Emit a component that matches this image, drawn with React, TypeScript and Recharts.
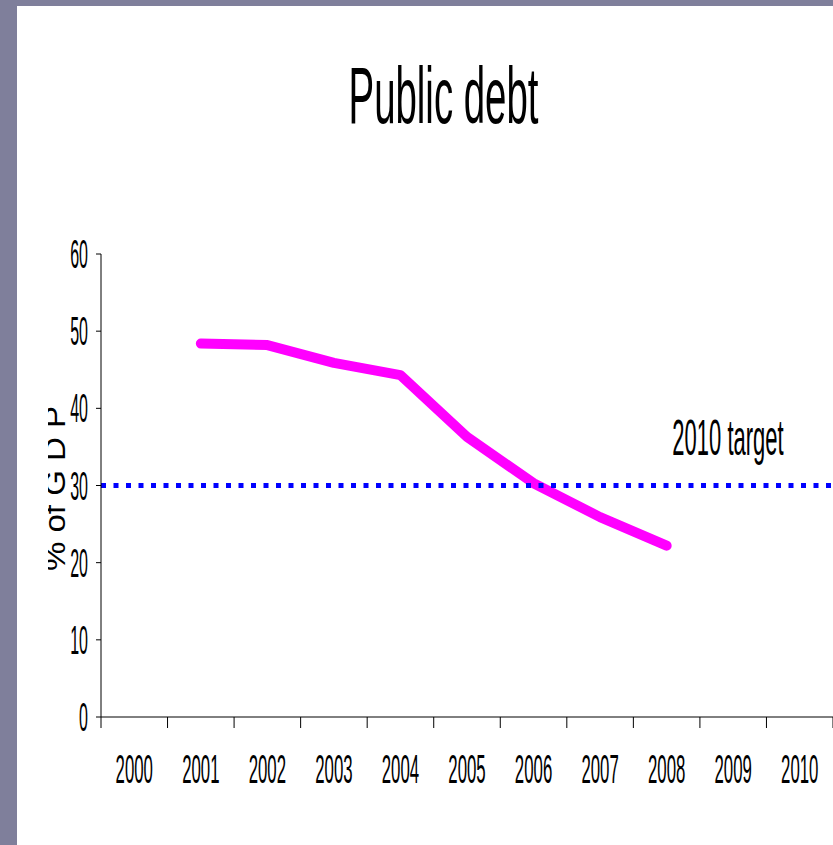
import React from "react";
import { LineChart, Line, XAxis, YAxis, ReferenceLine } from "recharts";

const years = [2000, 2001, 2002, 2003, 2004, 2005, 2006, 2007, 2008, 2009, 2010];
const debtYears = [2001, 2002, 2003, 2004, 2005, 2006, 2007, 2008];
const debtValues = [48.4, 48.2, 45.9, 44.3, 36.3, 30.3, 25.9, 22.2];
const yTicks = [0, 10, 20, 30, 40, 50, 60];
const targetValue = 30;
const targetLabel = "2010 target";
const titleText = "Public debt";
const yLabelText = "% of G D P";

const data = debtYears.map((year, i) => ({ year, debt: debtValues[i] }));
const boundaries = [...years.map((y) => y - 0.5), years[years.length - 1] + 0.5];
const xDomain: [number, number] = [years[0] - 0.5, years[years.length - 1] + 0.5];

const FONT = "'Liberation Sans', Arial, sans-serif";

const XTick = (props: any) => {
  const { x, y, payload } = props;
  return (
    <text
      transform={`translate(${x},${y}) scale(0.42,1)`}
      textAnchor="middle"
      fontFamily={FONT}
      fontSize={40}
      fill="#000"
    >
      {payload.value}
    </text>
  );
};

const YTick = (props: any) => {
  const { x, y, payload } = props;
  return (
    <text
      transform={`translate(${x},${y + 14}) scale(0.4,1)`}
      textAnchor="end"
      fontFamily={FONT}
      fontSize={40}
      fill="#000"
    >
      {payload.value}
    </text>
  );
};

const EmptyTick = () => <g />;

const YLabel = (props: any) => {
  const vb = props.viewBox || { x: 0, y: 254, width: 101, height: 463 };
  const cy = vb.y + vb.height / 2 + 3;
  return (
    <g>
      <defs>
        <clipPath id="ylabelclip">
          <rect x={48} y={vb.y} width={40} height={vb.height} />
        </clipPath>
      </defs>
      <g clipPath="url(#ylabelclip)">
        <text
          transform={`translate(65,${cy}) scale(0.9,1) rotate(-90)`}
          textAnchor="middle"
          fontFamily={FONT}
          fontSize={33}
          fill="#000"
        >
          {yLabelText}
        </text>
      </g>
    </g>
  );
};

const TargetLabel = (props: any) => {
  const vb = props.viewBox || { x: 101, y: 484, width: 732 };
  const cx = vb.x + vb.width - 105;
  const by = vb.y - 31;
  return (
    <text
      transform={`translate(${cx},${by}) scale(0.44,1)`}
      textAnchor="middle"
      fontFamily={FONT}
      fontSize={50}
      fill="#000"
    >
      {targetLabel}
    </text>
  );
};

export default function App() {
  return (
    <div
      style={{
        position: "fixed",
        left: 0,
        top: 0,
        width: 833,
        height: 845,
        background: "#7f7f9b",
        overflow: "hidden",
      }}
    >
      <div
        style={{
          position: "absolute",
          left: 17,
          top: 6,
          right: 0,
          bottom: 0,
          background: "#ffffff",
        }}
      />
      <svg
        width={833}
        height={845}
        style={{ position: "absolute", left: 0, top: 0 }}
      >
        <text
          transform={`translate(443.5,123) scale(0.48,1)`}
          textAnchor="middle"
          fontFamily={FONT}
          fontSize={80}
          fill="#000"
        >
          {titleText}
        </text>
      </svg>
      <div style={{ position: "absolute", left: 0, top: 0 }}>
        <LineChart
          width={833}
          height={845}
          data={data}
          margin={{ top: 254, right: 0, bottom: 0, left: 0 }}
        >
          <XAxis
            xAxisId={0}
            type="number"
            dataKey="year"
            domain={xDomain}
            ticks={boundaries}
            interval={0}
            height={1}
            tickSize={11}
            tick={EmptyTick}
            axisLine={{ stroke: "#000", strokeWidth: 1 }}
            tickLine={{ stroke: "#000", strokeWidth: 1 }}
          />
          <XAxis
            xAxisId={1}
            type="number"
            dataKey="year"
            domain={xDomain}
            ticks={years}
            interval={0}
            height={127}
            tickLine={false}
            axisLine={false}
            tickSize={0}
            tickMargin={65}
            tick={XTick}
          />
          <YAxis
            width={101}
            domain={[0, 60]}
            ticks={yTicks}
            interval={0}
            tickSize={5}
            tickMargin={8}
            axisLine={{ stroke: "#000", strokeWidth: 1 }}
            tickLine={{ stroke: "#000", strokeWidth: 1 }}
            tick={YTick}
            label={{ content: YLabel }}
          />
          <Line
            xAxisId={1}
            type="linear"
            dataKey="debt"
            stroke="#ff00ff"
            strokeWidth={10}
            strokeLinecap="round"
            strokeLinejoin="round"
            dot={false}
            activeDot={false}
            isAnimationActive={false}
          />
          <ReferenceLine
            xAxisId={1}
            y={targetValue}
            stroke="#0000ff"
            strokeWidth={5}
            strokeDasharray="5 7.5"
            label={{ content: TargetLabel }}
          />
        </LineChart>
      </div>
    </div>
  );
}
